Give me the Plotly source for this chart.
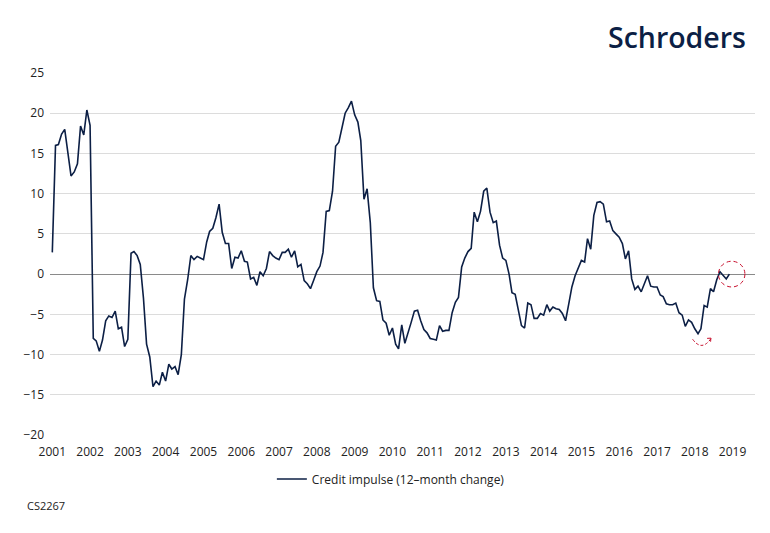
import pandas as pd
import plotly.graph_objects as go

# ---- data -------------------------------------------------------------
months = pd.date_range("2001-01-01", periods=216, freq="MS")

credit_impulse = [
    2.7, 16.0, 16.1, 17.4, 18.0, 14.7, 12.2, 12.7, 13.7, 18.4, 17.3, 20.4,      # 2001
    18.5, -8.0, -8.3, -9.6, -8.2, -5.8, -5.2, -5.4, -4.6, -6.8, -6.6, -9.0,     # 2002
    -8.1, 2.6, 2.8, 2.3, 1.2, -3.0, -8.7, -10.3, -14.0, -13.3, -13.8, -12.2,    # 2003
    -13.3, -11.2, -11.8, -11.5, -12.5, -10.0, -3.1, -0.7, 2.3, 1.8, 2.2, 2.0,   # 2004
    1.8, 4.0, 5.3, 5.7, 7.0, 8.7, 5.2, 3.8, 3.8, 0.7, 2.1, 2.0,                 # 2005
    2.9, 1.6, 1.5, -0.6, -0.4, -1.4, 0.3, -0.2, 0.7, 2.8, 2.3, 2.0,             # 2006
    1.8, 2.7, 2.7, 3.1, 2.1, 2.9, 0.9, 1.2, -0.8, -1.2, -1.8, -0.8,             # 2007
    0.3, 1.0, 2.7, 7.8, 7.9, 10.3, 15.9, 16.4, 18.4, 20.0, 20.7, 21.5,          # 2008
    19.8, 18.9, 16.6, 9.3, 10.6, 6.4, -1.7, -3.3, -3.4, -5.7, -6.1, -7.6,       # 2009
    -6.7, -8.7, -9.3, -6.3, -8.6, -7.4, -6.0, -4.6, -4.5, -5.8, -6.9, -7.3,     # 2010
    -8.0, -8.1, -8.2, -6.4, -7.1, -7.0, -7.0, -4.8, -3.5, -2.9, 0.9, 2.0,       # 2011
    2.8, 3.2, 7.7, 6.5, 7.8, 10.3, 10.7, 7.7, 6.4, 6.6, 3.6, 2.0,               # 2012
    1.7, 0.0, -2.3, -2.5, -4.5, -6.4, -6.7, -3.6, -3.8, -5.5, -5.5, -4.9,       # 2013
    -5.1, -3.8, -4.6, -4.1, -4.3, -4.4, -4.9, -5.8, -3.7, -1.6, -0.2, 0.7,      # 2014
    1.7, 1.5, 4.4, 3.1, 7.3, 8.9, 9.0, 8.7, 6.5, 6.6, 5.4, 5.0,                 # 2015
    4.6, 3.8, 1.9, 2.9, -0.6, -1.9, -1.5, -2.2, -1.2, -0.2, -1.5, -1.6,         # 2016
    -1.6, -2.6, -2.8, -3.7, -3.8, -3.8, -3.6, -4.8, -5.1, -6.5, -5.7, -6.0,     # 2017
    -6.8, -7.4, -6.8, -3.9, -4.1, -1.8, -2.2, -0.7, 0.3, -0.2, -0.6, 0.0,       # 2018
]

year_ticks = pd.date_range("2001-01-01", "2019-01-01", freq="YS")
year_labels = [str(d.year) for d in year_ticks]
y_ticks = [25, 20, 15, 10, 5, 0, -5, -10, -15, -20]

series_name = "Credit impulse (12\u2013month change)"

# ---- styling ----------------------------------------------------------
NAVY = "#0c1f45"
RED = "#c8102e"
FONT = "Open Sans"


def mdate(m):
    """month offset (from Jan 2001) -> timestamp, for annotation placement"""
    return pd.Timestamp("2001-01-01") + pd.Timedelta(days=m * 30.4375)


def pdate(m):
    """date string usable inside an SVG shape path on a date axis"""
    return mdate(m).strftime("%Y-%m-%d_%H:%M:%S")


fig = go.Figure()
fig.add_trace(go.Scatter(
    x=months, y=credit_impulse, mode="lines", name=series_name,
    line=dict(color=NAVY, width=1.6),
))

# highlight circle around latest reading
fig.add_shape(type="circle", xref="x", yref="y",
              x0=mdate(211.5), x1=mdate(219.9), y0=-1.6, y1=1.6,
              line=dict(color=RED, width=1, dash="4px,3px"))
# curved arrow under the trough
fig.add_shape(type="path", xref="x", yref="y",
              path=(f"M {pdate(203.3)},-8.1 "
                    f"Q {pdate(206.2)},-9.66 {pdate(209.1)},-8.02"),
              line=dict(color=RED, width=1, dash="3px,2px"))
fig.add_shape(type="path", xref="x", yref="y",
              path=(f"M {pdate(207.9)},-7.99 "
                    f"L {pdate(209.1)},-7.96 "
                    f"L {pdate(209.0)},-8.4"),
              line=dict(color=RED, width=1))

fig.add_annotation(text="Schroders", xref="paper", yref="paper",
                   x=0.990, y=1.099, xanchor="right", yanchor="middle",
                   showarrow=False,
                   font=dict(family=FONT, size=28.5, color=NAVY, weight=600))
fig.add_annotation(text="CS2267", xref="paper", yref="paper",
                   x=-0.036, y=-0.196, xanchor="left", yanchor="middle",
                   showarrow=False, font=dict(family=FONT, size=11, color="#222"))

# page body has an 8px margin, so the figure is drawn 8px smaller / shifted
fig.update_layout(
    width=762, height=525,
    margin=dict(l=42, r=15, t=65, b=98, autoexpand=False),
    paper_bgcolor="white", plot_bgcolor="white",
    font=dict(family=FONT, size=12, color="#222"),
    showlegend=True,
    legend=dict(orientation="h", x=0.3147, y=-0.1215, xanchor="left", yanchor="middle",
                font=dict(family=FONT, size=12, color="#222"), bgcolor="rgba(0,0,0,0)"),
    xaxis=dict(
        type="date",
        range=[mdate(-0.73), mdate(223.1)],
        tickvals=list(year_ticks), ticktext=year_labels,
        showgrid=False, zeroline=False, showline=False, ticks="",
        ticklabelstandoff=8,
        tickfont=dict(size=12, color="#222"),
        automargin=False,
    ),
    yaxis=dict(
        range=[-20, 25], tickvals=y_ticks,
        showgrid=True, gridcolor="#dcdcdc", gridwidth=1,
        zeroline=True, zerolinecolor="#8a8a8a", zerolinewidth=1,
        showline=False, ticks="", ticklabelstandoff=5,
        tickfont=dict(size=12, color="#222"),
        automargin=False,
    ),
)

fig.write_html("out.html")
